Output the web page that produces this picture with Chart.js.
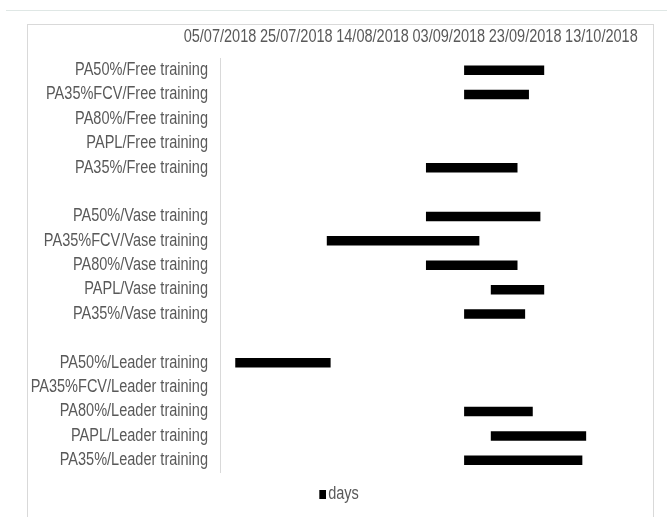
<!DOCTYPE html>
<html>
<head>
<meta charset="utf-8">
<script src="https://cdn.jsdelivr.net/npm/chart.js@4.4.0/dist/chart.umd.min.js"></script>
<style>
  html, body { margin: 0; padding: 0; background: #ffffff; }
  body { width: 667px; height: 517px; position: relative; overflow: hidden; }
  .topline { position: absolute; left: 6px; right: 0; top: 10px; height: 1px; background: #dfe7e5; }
  .frame { position: absolute; left: 27px; top: 24px; width: 627px; height: 520px; border: 1px solid #d9d9d9; box-sizing: border-box; }
  #chart { position: absolute; left: 0; top: 0; }
</style>
</head>
<body>
<div class="topline"></div>
<div class="frame"></div>
<canvas id="chart" width="667" height="517"></canvas>
<script>
// Task rows (blank strings separate the three training groups)
const categories = [
  "PA50%/Free training",
  "PA35%FCV/Free training",
  "PA80%/Free training",
  "PAPL/Free training",
  "PA35%/Free training",
  "",
  "PA50%/Vase training",
  "PA35%FCV/Vase training",
  "PA80%/Vase training",
  "PAPL/Vase training",
  "PA35%/Vase training",
  "",
  "PA50%/Leader training",
  "PA35%FCV/Leader training",
  "PA80%/Leader training",
  "PAPL/Leader training",
  "PA35%/Leader training"
];

// Start date of each task (null = no task)
const startDates = [
  "07/09/2018", "07/09/2018", null, null, "28/08/2018",
  null,
  "28/08/2018", "02/08/2018", "28/08/2018", "14/09/2018", "07/09/2018",
  null,
  "09/07/2018", null, "07/09/2018", "14/09/2018", "07/09/2018"
];

// Duration of each task in days
const days = [
  21, 17, null, null, 24,
  null,
  30, 40, 24, 14, 16,
  null,
  25, null, 18, 25, 31
];

// Date axis: extent and labelled ticks (20-day steps)
const axisStart = "05/07/2018";
const axisEnd = "26/10/2018";
const tickDates = ["05/07/2018", "25/07/2018", "14/08/2018", "03/09/2018", "23/09/2018", "13/10/2018"];

const DAY = 86400000;
function toDay(s) {
  const [d, m, y] = s.split("/").map(Number);
  return Date.UTC(y, m - 1, d) / DAY;
}
function fmtDay(v) {
  const dt = new Date(Math.round(v) * DAY);
  const dd = String(dt.getUTCDate()).padStart(2, "0");
  const mm = String(dt.getUTCMonth() + 1).padStart(2, "0");
  return dd + "/" + mm + "/" + dt.getUTCFullYear();
}

const spans = startDates.map((s, i) => (s && days[i] != null) ? [toDay(s), toDay(s) + days[i]] : null);
const tickValues = tickDates.map(toDay);

const FONT = '"Liberation Sans", Arial, sans-serif';
const TXT = "#595959";
const NARROW = 0.83; // condensed lettering

const canvas = document.getElementById("chart");
const ctx = canvas.getContext("2d");

// Condensed text: squeeze glyphs horizontally around their anchor point
const rawFill = ctx.fillText.bind(ctx);
const rawMeasure = ctx.measureText.bind(ctx);
ctx.fillText = function (text, x, y, maxWidth) {
  this.save();
  this.translate(x, y);
  this.scale(NARROW, 1);
  if (maxWidth === undefined) rawFill(text, 0, 0);
  else rawFill(text, 0, 0, maxWidth / NARROW);
  this.restore();
};
ctx.measureText = function (text) {
  const m = rawMeasure(text);
  return {
    width: m.width * NARROW,
    actualBoundingBoxAscent: m.actualBoundingBoxAscent,
    actualBoundingBoxDescent: m.actualBoundingBoxDescent,
    actualBoundingBoxLeft: m.actualBoundingBoxLeft * NARROW,
    actualBoundingBoxRight: m.actualBoundingBoxRight * NARROW,
    fontBoundingBoxAscent: m.fontBoundingBoxAscent,
    fontBoundingBoxDescent: m.fontBoundingBoxDescent
  };
};

// Legend marker: small square sitting close to its label
const marker = document.createElement("canvas");
marker.width = 14;
marker.height = 9;
const mctx = marker.getContext("2d");
mctx.fillStyle = "#000000";
mctx.fillRect(7, 0, 7, 9);

new Chart(canvas, {
  type: "bar",
  data: {
    labels: categories,
    datasets: [{
      label: "days",
      data: spans,
      backgroundColor: "#000000",
      borderWidth: 0,
      borderSkipped: false,
      categoryPercentage: 1,
      barPercentage: 0.39
    }]
  },
  options: {
    indexAxis: "y",
    responsive: false,
    animation: false,
    devicePixelRatio: 1,
    layout: { padding: { top: 0, right: 16, bottom: 4, left: 27 } },
    scales: {
      x: {
        type: "linear",
        position: "top",
        min: toDay(axisStart),
        max: toDay(axisEnd),
        grid: { display: false, drawTicks: false },
        border: { display: false },
        afterBuildTicks: (scale) => { scale.ticks = tickValues.map(v => ({ value: v })); },
        afterFit: (scale) => { scale.height = 58; },
        ticks: {
          color: TXT,
          font: { family: FONT, size: 17.5 },
          padding: 10,
          maxRotation: 0,
          autoSkip: false,
          callback: (v) => fmtDay(v)
        }
      },
      y: {
        grid: { display: false, drawTicks: false },
        border: { display: true, color: "#d9d9d9", width: 1 },
        afterFit: (scale) => { scale.width = 193; },
        ticks: {
          color: TXT,
          font: { family: FONT, size: 17.5 },
          padding: 12,
          autoSkip: false
        }
      }
    },
    plugins: {
      legend: {
        position: "bottom",
        labels: {
          color: TXT,
          font: { family: FONT, size: 17.5 },
          usePointStyle: true,
          pointStyle: marker,
          pointStyleWidth: 0.3,
          boxHeight: 9,
          padding: 13
        }
      },
      tooltip: { enabled: false }
    }
  }
});
</script>
</body>
</html>
